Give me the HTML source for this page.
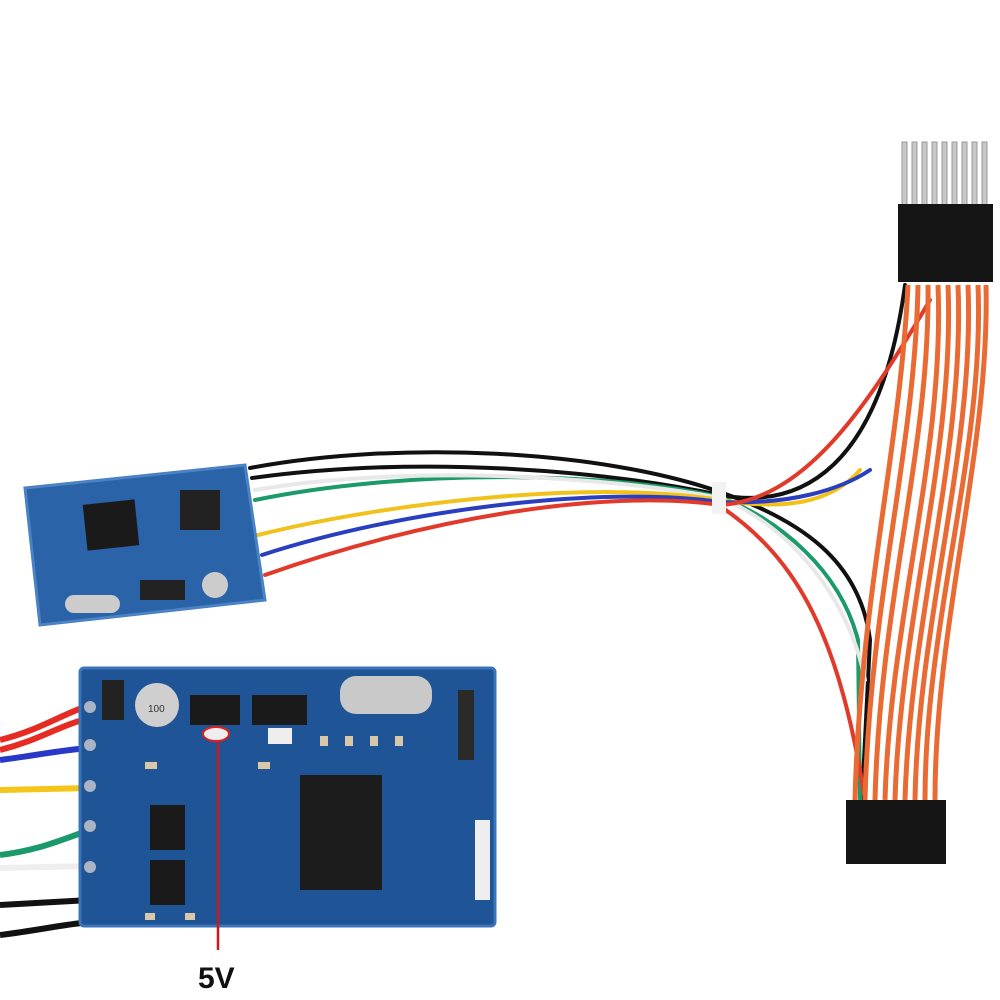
<!DOCTYPE html><html><head><style>body{margin:0;background:#fff}svg{display:block}</style></head><body>
<svg width="1000" height="1000" viewBox="0 0 1000 1000" xmlns="http://www.w3.org/2000/svg">
<rect width="1000" height="1000" fill="#fff"/>
<g fill="none" stroke-width="4" stroke-linecap="round">
<path d="M250 468 C400 440 600 450 720 492 C800 520 860 560 870 640 L862 800" stroke="#111"/>
<path d="M252 478 C420 455 600 470 720 495 C800 510 880 470 905 285" stroke="#111"/>
<path d="M255 500 C400 470 600 470 720 497 C780 520 840 570 858 640 L860 800" stroke="#1c9a6a"/>
<path d="M255 490 C400 465 600 475 720 498 C790 525 850 600 865 680" stroke="#e8e8e8"/>
<path d="M258 535 C400 500 600 480 720 500 C780 510 830 505 860 470" stroke="#f2c21c"/>
<path d="M262 555 C400 510 600 485 720 502 C790 505 840 490 870 470" stroke="#2a3fc0"/>
<path d="M265 575 C420 520 600 488 720 505 C800 500 860 420 930 300" stroke="#e23a2a"/>
<path d="M720 506 C800 560 840 640 865 800" stroke="#e23a2a"/>
</g>
<rect x="712" y="482" width="14" height="32" fill="#f2f2f2"/>
<g fill="none" stroke="#ea6a34" stroke-width="5">
<path d="M908 285 C900 450 860 600 855 800"/>
<path d="M918 285 C915 450 870 600 865 800"/>
<path d="M928 285 C930 450 880 600 875 800"/>
<path d="M938 285 C945 450 890 620 885 800"/>
<path d="M948 285 C955 450 900 620 895 800"/>
<path d="M958 285 C965 450 910 620 905 800"/>
<path d="M968 285 C975 450 918 620 915 800"/>
<path d="M978 285 C985 450 925 620 925 800"/>
<path d="M986 285 C990 450 935 620 935 800"/>
</g>
<g fill="#c8c8c8" stroke="#999" stroke-width="1">
<rect x="902" y="142" width="5" height="64"/><rect x="912" y="142" width="5" height="64"/><rect x="922" y="142" width="5" height="64"/><rect x="932" y="142" width="5" height="64"/><rect x="942" y="142" width="5" height="64"/><rect x="952" y="142" width="5" height="64"/><rect x="962" y="142" width="5" height="64"/><rect x="972" y="142" width="5" height="64"/><rect x="982" y="142" width="5" height="64"/>
</g>
<rect x="898" y="204" width="95" height="78" fill="#151515"/>
<rect x="846" y="800" width="100" height="64" fill="#151515"/>
<polygon points="25,488 245,465 265,600 40,625" fill="#2a63a8" stroke="#4a82c4" stroke-width="3"/>
<rect x="85" y="502" width="52" height="46" fill="#1a1a1a" transform="rotate(-6 111 525)"/>
<rect x="65" y="595" width="55" height="18" rx="9" fill="#ccc"/>
<circle cx="215" cy="585" r="13" fill="#ccc"/>
<rect x="140" y="580" width="45" height="20" fill="#222"/>
<rect x="180" y="490" width="40" height="40" fill="#222"/>
<g fill="none" stroke-width="6">
<path d="M0 740 C40 730 60 715 90 705" stroke="#e62b22"/>
<path d="M0 750 C40 740 60 725 90 718" stroke="#e62b22"/>
<path d="M0 760 C40 755 60 750 90 748" stroke="#2a38c8"/>
<path d="M0 790 L90 788" stroke="#f4c51a"/>
<path d="M0 855 C40 850 60 840 90 830" stroke="#1a9a6a"/>
<path d="M0 868 L90 866" stroke="#eee"/>
<path d="M0 905 L90 900" stroke="#111"/>
<path d="M0 935 C40 930 60 925 90 922" stroke="#111"/>
</g>
<rect x="80" y="668" width="415" height="258" rx="4" fill="#1f5496" stroke="#3b74b8" stroke-width="3"/>
<g fill="#aab4c4"><circle cx="90" cy="707" r="6"/><circle cx="90" cy="745" r="6"/><circle cx="90" cy="786" r="6"/><circle cx="90" cy="826" r="6"/><circle cx="90" cy="867" r="6"/></g>
<circle cx="157" cy="705" r="22" fill="#cfcfcf"/>
<text x="148" y="712" font-family="Liberation Sans,sans-serif" font-size="10" fill="#333">100</text>
<rect x="102" y="680" width="22" height="40" fill="#222"/>
<rect x="340" y="676" width="92" height="38" rx="16" fill="#c9c9c9"/>
<rect x="190" y="695" width="50" height="30" fill="#1a1a1a"/>
<rect x="252" y="695" width="55" height="30" fill="#1a1a1a"/>
<rect x="300" y="775" width="82" height="115" fill="#1c1c1c"/>
<rect x="150" y="805" width="35" height="45" fill="#1a1a1a"/>
<rect x="150" y="860" width="35" height="45" fill="#1a1a1a"/>
<rect x="458" y="690" width="16" height="70" fill="#2a2a2a"/>
<rect x="475" y="820" width="15" height="80" fill="#eee"/>
<g fill="#d8c8a8"><rect x="145" y="762" width="12" height="7"/><rect x="258" y="762" width="12" height="7"/><rect x="320" y="736" width="8" height="10"/><rect x="345" y="736" width="8" height="10"/><rect x="370" y="736" width="8" height="10"/><rect x="395" y="736" width="8" height="10"/><rect x="145" y="913" width="10" height="7"/><rect x="185" y="913" width="10" height="7"/></g>
<rect x="268" y="728" width="24" height="16" fill="#eee"/>
<ellipse cx="216" cy="734" rx="13" ry="7" fill="#eee" stroke="#e02020" stroke-width="2"/>
<line x1="218" y1="742" x2="218" y2="950" stroke="#cc1a1a" stroke-width="2.5"/>
<text x="198" y="988" font-family="Liberation Sans,sans-serif" font-weight="bold" font-size="30" fill="#111">5V</text>
</svg>
</body></html>
